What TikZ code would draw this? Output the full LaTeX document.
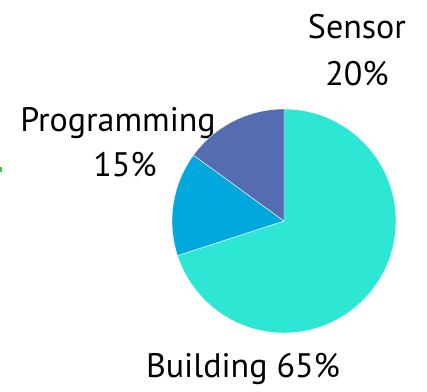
\documentclass[tikz,border=0pt]{standalone}
\usepackage{fontspec}
\setmainfont{PT Sans}
\usetikzlibrary{positioning}
\definecolor{Turquoise}{RGB}{45, 230, 212}
\definecolor{SkyBlue}{RGB}{0, 168, 222}
\definecolor{Slate}{RGB}{86, 108, 176}
\definecolor{Lime}{RGB}{60, 200, 60}
\tikzstyle{label} = [anchor=base, inner sep=0pt, font=\fontsize{34}{40}\selectfont, text=black]
\tikzstyle{slice} = [draw=white, line width=0.4pt]

\begin{document}
\begin{tikzpicture}[x=1pt, y=-1pt]
\useasboundingbox (0,0) rectangle (427,391);

% Labels
\node (prog) [label] at (118,131) {Programming};
\node (progpct) [label] at (125,176) {15\%};
\node (sensor) [label] at (357,38) {Sensor};
\node (sensorpct) [label] at (357,85) {20\%};
\node (build) [label] at (243,377) {Building 65\%};

% Pie
\coordinate (center) at (284,221);
\fill[slice, fill=Turquoise] (center) -- ++(-90:112) arc (-90:162:112) -- cycle;
\fill[slice, fill=SkyBlue] (center) -- ++(162:112) arc (162:216:112) -- cycle;
\fill[slice, fill=Slate] (center) -- ++(216:112) arc (216:270:112) -- cycle;

% Stray mark at the left edge
\fill[Lime] (0,166.5) rectangle (2,171.5);

\end{tikzpicture}
\end{document}
